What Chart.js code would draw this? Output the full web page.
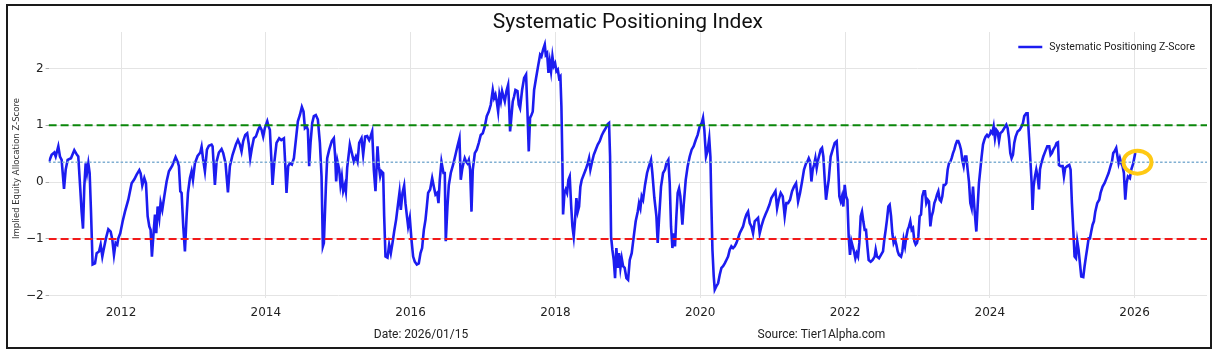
<!DOCTYPE html>
<html>
<head>
<meta charset="utf-8">
<script src="https://cdn.jsdelivr.net/npm/chart.js@4.4.1/dist/chart.umd.min.js"></script>
<style>
  html, body { margin: 0; padding: 0; background: #fff; }
  #frame { position: absolute; left: 6px; top: 4px; width: 1202px; height: 341px; border: 2px solid #1a1a1a; background: #fff; }
  canvas { display: block; }
</style>
</head>
<body>
<div id="frame"><canvas id="chartSpi" width="1202" height="341"></canvas></div>
<script>
// fechas en años decimales
const dates = [
  2011.006, 2011.042, 2011.079, 2011.098, 2011.134, 2011.157, 2011.180, 2011.213, 2011.236, 2011.263,
  2011.309, 2011.355, 2011.392, 2011.410, 2011.438, 2011.456, 2011.475, 2011.493, 2011.512, 2011.530,
  2011.549, 2011.567, 2011.585, 2011.608, 2011.641, 2011.664, 2011.696, 2011.719, 2011.742, 2011.760,
  2011.792, 2011.825, 2011.857, 2011.880, 2011.903, 2011.926, 2011.949, 2011.963, 2011.990, 2012.023,
  2012.055, 2012.101, 2012.147, 2012.184, 2012.216, 2012.253, 2012.272, 2012.294, 2012.322, 2012.345,
  2012.368, 2012.391, 2012.409, 2012.427, 2012.446, 2012.469, 2012.487, 2012.506, 2012.529, 2012.547,
  2012.570, 2012.598, 2012.630, 2012.662, 2012.708, 2012.754, 2012.782, 2012.800, 2012.819, 2012.837,
  2012.860, 2012.883, 2012.906, 2012.925, 2012.952, 2012.975, 2012.994, 2013.021, 2013.058, 2013.095,
  2013.113, 2013.132, 2013.159, 2013.187, 2013.214, 2013.251, 2013.265, 2013.297,
  2013.320, 2013.352, 2013.389, 2013.412, 2013.444, 2013.477, 2013.504, 2013.541, 2013.587, 2013.615,
  2013.642, 2013.665, 2013.688, 2013.716, 2013.743, 2013.766, 2013.785, 2013.808, 2013.835, 2013.863,
  2013.895, 2013.918, 2013.941, 2013.964, 2013.987, 2014.020, 2014.038, 2014.056, 2014.075, 2014.093,
  2014.116, 2014.148, 2014.185, 2014.213, 2014.250, 2014.268, 2014.286, 2014.309, 2014.332, 2014.360,
  2014.388, 2014.415, 2014.443, 2014.471, 2014.498, 2014.521, 2014.540, 2014.563, 2014.581, 2014.599,
  2014.618, 2014.641, 2014.664, 2014.691, 2014.719, 2014.747, 2014.770, 2014.788, 2014.802, 2014.830,
  2014.848, 2014.876, 2014.912, 2014.940, 2014.958, 2014.972, 2014.991, 2015.014, 2015.032, 2015.050,
  2015.069, 2015.092, 2015.106, 2015.124, 2015.161, 2015.189, 2015.216, 2015.244, 2015.267, 2015.290,
  2015.322, 2015.345, 2015.372, 2015.400, 2015.428, 2015.446, 2015.469, 2015.492, 2015.515,
  2015.543, 2015.561, 2015.580, 2015.598, 2015.621, 2015.635, 2015.653, 2015.681, 2015.704, 2015.727,
  2015.750, 2015.773, 2015.800, 2015.828, 2015.847, 2015.865, 2015.888, 2015.911, 2015.929, 2015.952,
  2015.966, 2015.989, 2016.012, 2016.035, 2016.058, 2016.086, 2016.113, 2016.137, 2016.159, 2016.183,
  2016.206, 2016.224, 2016.242, 2016.270, 2016.298, 2016.321, 2016.344, 2016.367, 2016.385, 2016.403,
  2016.426, 2016.454, 2016.472, 2016.486, 2016.509, 2016.528, 2016.555, 2016.588, 2016.620, 2016.647,
  2016.675, 2016.693, 2016.712, 2016.730, 2016.748, 2016.767, 2016.785, 2016.804, 2016.822, 2016.841,
  2016.859, 2016.887, 2016.914, 2016.942, 2016.969, 2016.997, 2017.025, 2017.052, 2017.080, 2017.107,
  2017.135, 2017.153, 2017.172, 2017.190, 2017.209, 2017.227, 2017.246, 2017.264, 2017.282, 2017.301,
  2017.324, 2017.347, 2017.361, 2017.374, 2017.393, 2017.411, 2017.430, 2017.448, 2017.476, 2017.494,
  2017.512, 2017.540, 2017.568, 2017.595, 2017.614, 2017.632, 2017.650, 2017.669, 2017.687, 2017.706,
  2017.733, 2017.761, 2017.789, 2017.807, 2017.830, 2017.853,
  2017.867, 2017.885, 2017.904, 2017.922, 2017.940, 2017.959, 2017.977, 2017.996, 2018.014, 2018.033,
  2018.051, 2018.069, 2018.083, 2018.097, 2018.106, 2018.125, 2018.143, 2018.161, 2018.180, 2018.198,
  2018.217, 2018.235, 2018.253, 2018.272, 2018.290, 2018.309, 2018.327, 2018.345, 2018.364, 2018.391,
  2018.419, 2018.447, 2018.465, 2018.483, 2018.502, 2018.530, 2018.557, 2018.585, 2018.612, 2018.640,
  2018.668, 2018.695, 2018.723, 2018.741, 2018.755, 2018.769, 2018.787, 2018.806, 2018.824, 2018.842,
  2018.861, 2018.879, 2018.898, 2018.916, 2018.935, 2018.957, 2018.981, 2019.004, 2019.027, 2019.054,
  2019.082, 2019.109, 2019.137, 2019.155, 2019.174, 2019.192, 2019.211, 2019.238, 2019.266, 2019.293,
  2019.321, 2019.339, 2019.367, 2019.395, 2019.413, 2019.431, 2019.459, 2019.487, 2019.514, 2019.533,
  2019.560, 2019.579, 2019.597, 2019.616, 2019.634, 2019.652, 2019.671, 2019.689, 2019.708, 2019.726,
  2019.754, 2019.772, 2019.800, 2019.827, 2019.855, 2019.882, 2019.910, 2019.938, 2019.965, 2019.993,
  2020.021, 2020.039, 2020.057, 2020.080, 2020.100, 2020.125, 2020.141,
  2020.155, 2020.169, 2020.187, 2020.201, 2020.224, 2020.247, 2020.270, 2020.293, 2020.316, 2020.339,
  2020.362, 2020.385, 2020.408, 2020.431, 2020.454, 2020.477, 2020.500, 2020.523, 2020.546, 2020.569,
  2020.592, 2020.615, 2020.638, 2020.661, 2020.684, 2020.707, 2020.730, 2020.753, 2020.776, 2020.799,
  2020.822, 2020.845, 2020.873, 2020.901, 2020.928, 2020.956, 2020.983, 2021.011, 2021.039, 2021.062,
  2021.085, 2021.112, 2021.140, 2021.167, 2021.190, 2021.214, 2021.241, 2021.269, 2021.296, 2021.324,
  2021.352, 2021.379, 2021.407, 2021.434, 2021.462, 2021.480, 2021.499, 2021.517, 2021.536, 2021.554,
  2021.572, 2021.591, 2021.609, 2021.628, 2021.646, 2021.664, 2021.683, 2021.701, 2021.720, 2021.738,
  2021.756, 2021.775, 2021.802, 2021.830, 2021.858, 2021.885, 2021.904, 2021.922, 2021.941, 2021.959,
  2021.977, 2021.996, 2022.014, 2022.033, 2022.051, 2022.069, 2022.088, 2022.106, 2022.125, 2022.143,
  2022.161, 2022.180, 2022.198, 2022.217, 2022.235, 2022.253, 2022.272, 2022.290, 2022.309, 2022.327,
  2022.355, 2022.382, 2022.410,
  2022.424, 2022.442, 2022.470, 2022.497, 2022.525, 2022.543, 2022.562, 2022.580, 2022.599, 2022.617,
  2022.636, 2022.654, 2022.672, 2022.691, 2022.709, 2022.728, 2022.746, 2022.774, 2022.792, 2022.810,
  2022.829, 2022.847, 2022.866, 2022.884, 2022.902, 2022.921, 2022.939, 2022.958, 2022.976, 2022.994,
  2023.013, 2023.031, 2023.050, 2023.068, 2023.087, 2023.105, 2023.123, 2023.142, 2023.160, 2023.179,
  2023.197, 2023.215, 2023.234, 2023.252, 2023.271, 2023.289, 2023.307, 2023.326, 2023.344, 2023.363,
  2023.381, 2023.399, 2023.418, 2023.436, 2023.455, 2023.473, 2023.492, 2023.510, 2023.528, 2023.547,
  2023.565, 2023.584, 2023.602, 2023.620, 2023.639, 2023.657, 2023.676, 2023.694, 2023.712, 2023.731,
  2023.749, 2023.768, 2023.786, 2023.804, 2023.814, 2023.832, 2023.850, 2023.869, 2023.887, 2023.906,
  2023.924, 2023.942, 2023.961, 2023.979, 2023.998, 2024.016, 2024.034, 2024.053, 2024.071, 2024.090,
  2024.108, 2024.127, 2024.145, 2024.173, 2024.200, 2024.228, 2024.246, 2024.265, 2024.283, 2024.301,
  2024.320, 2024.338, 2024.357, 2024.384, 2024.412, 2024.439, 2024.458, 2024.476, 2024.504, 2024.522,
  2024.541, 2024.559, 2024.578, 2024.591, 2024.605, 2024.624, 2024.642, 2024.660, 2024.679,
  2024.693, 2024.711, 2024.739, 2024.766, 2024.794, 2024.821, 2024.840, 2024.858, 2024.877, 2024.904,
  2024.923, 2024.941, 2024.955, 2024.978, 2025.006, 2025.024, 2025.042, 2025.070, 2025.098, 2025.116,
  2025.134, 2025.153, 2025.171, 2025.190, 2025.208, 2025.226, 2025.245, 2025.263, 2025.291, 2025.309,
  2025.328, 2025.346, 2025.365, 2025.383, 2025.401, 2025.420, 2025.438, 2025.457, 2025.484, 2025.512,
  2025.530, 2025.558, 2025.585, 2025.613, 2025.641, 2025.668, 2025.687, 2025.705, 2025.723, 2025.746,
  2025.760, 2025.779, 2025.797, 2025.816, 2025.834, 2025.852, 2025.871, 2025.889, 2025.908, 2025.935,
  2025.954, 2025.981, 2026.009
];

const zScores = [
  0.36, 0.48, 0.52, 0.45, 0.63, 0.45, 0.39, -0.12, 0.22, 0.39,
  0.42, 0.56, 0.48, 0.45, -0.13, -0.52, -0.82, -0.08, 0.33, 0.16,
  0.33, 0.16, -0.49, -1.45, -1.43, -1.25, -1.22, -1.10, -1.31, -1.19,
  -0.99, -0.83, -0.87, -1.01, -1.28, -1.07, -1.10, -0.99, -0.90, -0.69,
  -0.52, -0.31, -0.02, 0.05, 0.13, 0.21, 0.15, -0.06, 0.07, -0.02,
  -0.60, -0.78, -0.84, -1.31, -0.96, -0.57, -0.90, -0.43, -0.63, -0.36,
  -0.49, -0.25, 0.01, 0.19, 0.29, 0.44, 0.36, 0.28, -0.16, -0.19,
  -0.78, -1.22, -0.60, -0.19, 0.07, 0.19, 0.04, 0.33, 0.46, 0.52,
  0.62, 0.42, 0.19, 0.57, 0.64, 0.66, 0.63, -0.05,
  0.36, 0.52, 0.58, 0.51, 0.33, -0.18, 0.28, 0.48, 0.66, 0.74,
  0.66, 0.54, 0.72, 0.83, 0.86, 0.66, 0.42, 0.60, 0.77, 0.80,
  0.92, 0.98, 0.92, 0.80, 0.95, 1.07, 0.98, 0.92, 0.45, -0.05,
  0.33, 0.69, 0.77, 0.74, 0.77, 0.33, -0.19, 0.28, 0.33, 0.31,
  0.42, 0.74, 1.07, 1.18, 1.32, 1.24, 0.95, 0.98, 0.92, 0.28,
  0.69, 1.04, 1.16, 1.18, 1.10, 0.69, 0.10, -1.13, -1.07, -0.08,
  0.42, 0.57, 0.72, 0.77, 0.45, 0.01, 0.36, 0.22, -0.05, 0.10,
  -0.16, -0.05, -0.16, 0.25, 0.66, 0.51, 0.36, 0.45, 0.36, 0.69,
  0.77, 0.48, 0.80, 0.81, 0.74, 0.80, 0.89, 0.22, -0.16,
  0.63, 0.28, 0.10, 0.19, 0.16, -0.60, -1.31, -1.33, -1.10, -1.25,
  -1.07, -0.87, -0.66, -0.37, -0.18, -0.49, -0.19, -0.06, -0.37, -0.63,
  -0.78, -0.63, -1.01, -1.31, -1.40, -1.45, -1.43, -1.25, -1.16, -0.84,
  -0.66, -0.43, -0.19, -0.13, 0.07, -0.08, -0.22, -0.19, -0.37, 0.04,
  0.36, 0.16, 0.16, -1.04, -0.43, -0.05, 0.16, 0.31, 0.48, 0.63,
  0.77, 0.04, 0.22, 0.33, 0.42, 0.36, 0.33, 0.39, 0.22, -0.52,
  0.22, 0.51, 0.57, 0.69, 0.83, 0.86, 0.98, 1.16, 1.24, 1.36,
  1.62, 1.48, 1.54, 1.42, 1.24, 1.54, 1.42, 1.60, 1.51, 1.42,
  1.60, 1.71, 1.33, 0.89, 1.16, 1.42, 1.51, 1.62, 1.60, 1.36,
  1.30, 1.62, 1.83, 1.89, 1.24, 0.54, 1.13, 1.18, 1.24, 1.62,
  1.83, 2.04, 2.24, 2.21, 2.33, 2.42,
  2.24, 2.27, 1.92, 2.12, 1.95, 2.21, 2.04, 2.09, 1.95, 1.98,
  1.83, 1.86, 1.33, 0.33, -0.57, -0.19, -0.13, -0.19, 0.04, 0.10,
  -0.40, -0.78, -0.96, -0.66, -0.28, -0.52, -0.43, -0.08, 0.04, 0.13,
  0.22, 0.33, 0.42, 0.22, 0.33, 0.48, 0.57, 0.66, 0.72, 0.82,
  0.89, 0.95, 1.02, 1.04, 0.45, -0.96, -1.19, -1.37, -1.69, -1.16,
  -1.51, -1.25, -1.51, -1.34, -1.48, -1.51, -1.69, -1.72, -1.37, -1.25,
  -0.96, -0.69, -0.52, -0.37, -0.46, -0.25, -0.31, -0.05, 0.16, 0.28,
  0.39, 0.16, -0.28, -0.60, -1.07, -0.66, -0.08, 0.16, 0.22, 0.33,
  0.39, -0.02, -0.78, -1.16, -0.90, -1.13, -0.60, -0.19, -0.11, -0.25,
  -0.75, -0.40, 0.04, 0.28, 0.45, 0.57, 0.63, 0.74, 0.83, 0.98,
  1.04, 1.13, 0.92, 0.45, 0.54, 0.77, 0.45,
  -0.43, -1.19, -1.66, -1.89, -1.83, -1.78, -1.63, -1.51, -1.48, -1.43,
  -1.37, -1.31, -1.19, -1.13, -1.16, -1.13, -1.07, -0.99, -0.90, -0.84,
  -0.78, -0.66, -0.57, -0.52, -0.72, -0.78, -0.90, -0.69, -0.66, -0.63,
  -0.90, -0.78, -0.66, -0.57, -0.49, -0.40, -0.28, -0.22, -0.16, -0.46,
  -0.31, -0.19, -0.25, -0.60, -0.37, -0.37, -0.31, -0.16, -0.08, -0.02,
  -0.34, -0.19, 0.01, 0.22, 0.33, 0.36, 0.42, 0.36, 0.01, 0.22,
  0.30, 0.42, 0.25, 0.39, 0.48, 0.57, 0.60, 0.45, 0.04, -0.31,
  -0.13, 0.04, 0.45, 0.57, 0.69, 0.72, 0.33, -0.25, -0.34, -0.25,
  -0.43, -0.05, -0.25, -0.31, -0.96, -1.28, -1.04, -1.13, -1.22, -1.34,
  -1.25, -1.31, -1.07, -0.60, -0.52, -0.69, -0.84, -0.84, -1.13, -1.37,
  -1.40, -1.37, -1.31,
  -1.19, -1.31, -1.34, -1.28, -1.22, -1.01, -0.84, -0.66, -0.43, -0.40,
  -0.60, -0.90, -1.07, -1.01, -1.10, -1.22, -1.28, -1.31, -1.22, -1.01,
  -1.13, -0.96, -0.84, -0.78, -0.69, -0.84, -0.81, -1.04, -1.10, -1.07,
  -0.96, -0.60, -0.57, -0.25, -0.16, -0.16, -0.37, -0.31, -0.34, -0.78,
  -0.60, -0.52, -0.37, -0.31, -0.22, -0.16, -0.31, -0.34, -0.25, -0.05,
  -0.05, -0.02, 0.22, 0.33, 0.36, 0.42, 0.51, 0.57, 0.66, 0.72,
  0.72, 0.66, 0.57, 0.39, 0.28, 0.45, 0.45, 0.22, 0.01, -0.37,
  -0.46, -0.08, -0.43, -0.72, -0.87, -0.43, -0.02, 0.22, 0.45, 0.66,
  0.74, 0.80, 0.83, 0.80, 0.83, 0.89, 0.86, 0.98, 0.77, 0.92,
  0.89, 0.72, 0.86, 0.89, 0.95, 1.01, 0.95, 0.77, 0.51, 0.42,
  0.48, 0.69, 0.80, 0.89, 0.92, 0.98, 1.04, 1.16, 1.21, 1.21,
  0.80, 0.42, -0.02, -0.49, -0.08, 0.10, 0.22, 0.10, -0.13,
  0.22, 0.33, 0.45, 0.54, 0.63, 0.63, 0.48, 0.51, 0.57, 0.63,
  0.69, 0.70, 0.30, 0.28, 0.28, 0.10, 0.25, 0.28, 0.30, 0.22,
  -0.37, -0.84, -1.31, -1.34, -1.04, -1.19, -1.43, -1.66, -1.67, -1.48,
  -1.31, -1.16, -0.99, -0.99, -0.87, -0.75, -0.69, -0.52, -0.37, -0.31,
  -0.19, -0.08, -0.02, 0.07, 0.16, 0.28, 0.36, 0.51, 0.54, 0.60,
  0.48, 0.33, 0.42, 0.33, 0.28, 0.16, -0.31, -0.02, 0.10, 0.07,
  0.22, 0.33, 0.51
];

const bands = [1, -1];          // umbral superior e inferior
const currentLevel = [0.35];    // línea punteada de referencia
const highlightAt = [2026.04, 0.35];
const xRange = [2011, 2027];
const yRange = [-2.03, 2.64];
const yearTicks = [2012, 2014, 2016, 2018, 2020, 2022, 2024, 2026];
const zTicks = [-2, -1, 0, 1, 2];

const chartTitle = 'Systematic Positioning Index';
const seriesLabel = 'Systematic Positioning Z-Score';
const yTitle = 'Implied Equity Allocation Z-Score';
const footerTexts = ['Date: 2026/01/15', 'Source: Tier1Alpha.com'];

const levelLine = v => [{ x: xRange[0], y: v }, { x: xRange[1], y: v }];

const decoraciones = {
  id: 'decoraciones',
  afterDatasetsDraw(chart) {
    const { ctx, scales: { x, y } } = chart;
    ctx.save();
    ctx.beginPath();
    ctx.ellipse(x.getPixelForValue(highlightAt[0]), y.getPixelForValue(highlightAt[1]), 14, 11.5, 0, 0, Math.PI * 2);
    ctx.strokeStyle = '#ffc914';
    ctx.lineWidth = 4;
    ctx.stroke();
    ctx.restore();
  },
  afterDraw(chart) {
    const { ctx, chartArea } = chart;
    ctx.save();
    ctx.fillStyle = '#111';
    ctx.textAlign = 'center';
    ctx.textBaseline = 'alphabetic';
    ctx.font = '21px Roboto';
    ctx.fillText(chartTitle, (chartArea.left + chartArea.right) / 2, 22);

    // leyenda
    ctx.font = '10.5px Roboto';
    ctx.textAlign = 'right';
    ctx.textBaseline = 'middle';
    ctx.fillStyle = '#222';
    const tx = chartArea.right - 12;
    ctx.fillText(seriesLabel, tx, 41);
    const w = ctx.measureText(seriesLabel).width;
    ctx.beginPath();
    ctx.moveTo(tx - w - 31, 41);
    ctx.lineTo(tx - w - 7, 41);
    ctx.strokeStyle = '#1c1cf0';
    ctx.lineWidth = 2.5;
    ctx.stroke();

    // titulo del eje y
    ctx.save();
    ctx.translate(9, 162.5);
    ctx.rotate(-Math.PI / 2);
    ctx.font = '8.5px "DejaVu Sans"';
    ctx.textAlign = 'center';
    ctx.fillStyle = '#333';
    ctx.fillText(yTitle, 0, 0);
    ctx.restore();

    // pie
    ctx.font = '12px Roboto';
    ctx.textAlign = 'center';
    ctx.fillStyle = '#222';
    ctx.fillText(footerTexts[0], 413, 329);
    ctx.fillText(footerTexts[1], 813.5, 329);
    ctx.restore();
  }
};

const ctx = document.getElementById('chartSpi').getContext('2d');

const chartSpi = new Chart(ctx, {
  type: 'line',
  data: {
    datasets: [
      {
        label: 'upper',
        data: levelLine(bands[0]),
        borderColor: '#0b870b',
        borderWidth: 2,
        borderDash: [8, 4],
        pointRadius: 0,
        order: 0
      },
      {
        label: 'lower',
        data: levelLine(bands[1]),
        borderColor: '#f21a1a',
        borderWidth: 2,
        borderDash: [8, 4],
        pointRadius: 0,
        order: 0
      },
      {
        label: 'current',
        data: levelLine(currentLevel[0]),
        borderColor: '#80afd2',
        borderWidth: 1.5,
        borderDash: [2.5, 2],
        pointRadius: 0,
        order: 0
      },
      {
        label: seriesLabel,
        data: dates.map((d, i) => ({ x: d, y: zScores[i] })),
        borderColor: '#1c1cf0',
        borderWidth: 2.6,
        pointRadius: 0,
        tension: 0,
        order: 1
      }
    ]
  },
  options: {
    responsive: false,
    animation: false,
    devicePixelRatio: 1,
    layout: { padding: { left: 0, right: 3, top: 26, bottom: 28 } },
    plugins: {
      legend: { display: false },
      title: { display: false },
      tooltip: { enabled: false }
    },
    scales: {
      x: {
        type: 'linear',
        min: xRange[0],
        max: xRange[1],
        afterBuildTicks: s => { s.ticks = yearTicks.map(v => ({ value: v })); },
        afterFit: s => { s.height = 21.5; },
        border: { display: false },
        grid: { color: '#e4e4e4', drawTicks: false },
        ticks: {
          padding: 8,
          color: '#222',
          font: { family: 'DejaVu Sans', size: 12 },
          callback: v => String(v)
        }
      },
      y: {
        min: yRange[0],
        max: yRange[1],
        afterBuildTicks: s => { s.ticks = zTicks.map(v => ({ value: v })); },
        afterFit: s => { s.width = 40.6; },
        border: { display: false },
        grid: { color: '#e4e4e4', tickLength: 3, tickColor: '#aaa' },
        ticks: {
          padding: 2,
          color: '#222',
          font: { family: 'DejaVu Sans', size: 12 },
          callback: v => (v < 0 ? '\u2212' + Math.abs(v) : String(v))
        }
      }
    }
  },
  plugins: [decoraciones]
});
</script>
</body>
</html>
